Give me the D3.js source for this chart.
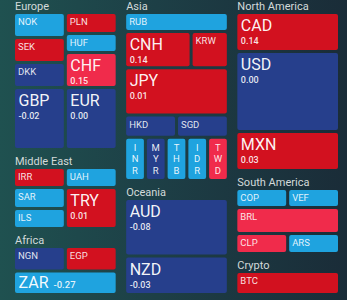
<!DOCTYPE html>
<html>
<head>
<meta charset="utf-8">
<script src="https://cdn.jsdelivr.net/npm/d3@7"></script>
<style>
  html, body { margin: 0; padding: 0; background: #1c3a42; }
  svg { display: block; }
  text { font-family: Roboto, "Noto Sans", sans-serif; }
</style>
</head>
<body>
<svg id="chart" width="347" height="300"></svg>
<script>
// ---------------- DATA ----------------
const codes   = ["NOK","SEK","DKK","PLN","HUF","CHF","GBP","EUR",
                 "IRR","SAR","ILS","UAH","TRY",
                 "NGN","EGP","ZAR",
                 "RUB","CNH","KRW","JPY","HKD","SGD","INR","MYR","THB","IDR","TWD",
                 "AUD","NZD",
                 "CAD","USD","MXN",
                 "COP","VEF","BRL","CLP","ARS",
                 "BTC"];
// % change shown on the larger tiles (null = not displayed)
const changes = [null,null,null,null,null,0.15,-0.02,0.00,
                 null,null,null,null,0.01,
                 null,null,-0.27,
                 null,0.14,null,0.01,null,null,null,null,null,null,null,
                 -0.08,-0.03,
                 0.14,0.00,0.03,
                 null,null,null,null,null,
                 null];
// colour class of each tile
const trend   = ["down2","up1","down1","up1","down2","up2","down1","down1",
                 "up1","down2","down2","down2","up1",
                 "down1","up1","down2",
                 "down2","up1","up1","up1","down1","down1","down2","down1","down2","down2","up2",
                 "down1","down1",
                 "up1","down1","up1",
                 "down2","down2","up2","up2","down2",
                 "up1"];
const trendClasses = ["down2","down1","up1","up2"];
const trendColors  = ["#1fa3df","#263f8c","#d2111f","#f02b4b"];

// tile weights (relative sizes) nested by region
const V = (w, ...children) => ({dir: "v", w, children});
const H = (w, ...children) => ({dir: "h", w, children});
const T = (code, w) => ({code, w});
const R = (region, w, dir, ...children) => ({region, w, dir, children});

const tree = H(1,
  V(1,
    R("Europe", 155, "v",
      H(75, V(1, T("NOK",25), T("SEK",25), T("DKK",25)),
            V(1, T("PLN",21), T("HUF",19), T("CHF",35))),
      H(62, T("GBP",1), T("EUR",1))),
    R("Middle East", 79, "h",
      V(1, T("IRR",20), T("SAR",21), T("ILS",20)),
      V(1, T("UAH",20), T("TRY",41))),
    R("Africa", 66, "v",
      H(25, T("NGN",1), T("EGP",1)),
      T("ZAR",24))
  ),
  V(1,
    R("Asia", 186, "v",
      T("RUB",19),
      H(36, T("CNH",66), T("KRW",37)),
      T("JPY",47),
      H(22, T("HKD",1), T("SGD",1)),
      H(43, T("INR",1), T("MYR",1), T("THB",1), T("IDR",1), T("TWD",1))),
    R("Oceania", 114, "v", T("AUD",57), T("NZD",38))
  ),
  V(1,
    R("North America", 176, "v", T("CAD",39), T("USD",80), T("MXN",39)),
    R("South America", 83, "v",
      H(19, T("COP",1), T("VEF",1)),
      T("BRL",26),
      H(20, T("CLP",1), T("ARS",1))),
    R("Crypto", 41, "v", T("BTC",1))
  )
);

// ---------------- LAYOUT ----------------
const W = 347, Hh = 300;
const svg = d3.select("#chart");

const defs = svg.append("defs");
const grad = defs.append("linearGradient").attr("id","bg").attr("x1","0").attr("x2","1").attr("y1","0").attr("y2","0");
grad.append("stop").attr("offset","0").attr("stop-color","#1f5150");
grad.append("stop").attr("offset","0.45").attr("stop-color","#1d3f46");
grad.append("stop").attr("offset","1").attr("stop-color","#1a2c38");
svg.append("rect").attr("width",W).attr("height",Hh).attr("fill","url(#bg)");

const color = d3.scaleOrdinal(trendClasses, trendColors);
const info = new Map(codes.map((c,i) => [c, {change: changes[i], trend: trend[i]}]));
const fmt = d3.formatLocale({decimal: ".", thousands: ",", grouping: [3], currency: ["", ""], minus: "-"}).format(".2f");

function tile(node, x0, y0, x1, y1) {
  const kids = node.children;
  const total = d3.sum(kids, c => c.data.w);
  if (node.data.dir === "h") {
    const k = (x1 - x0) / total; let x = x0;
    kids.forEach(c => { c.x0 = x; c.x1 = (x += c.data.w * k); c.y0 = y0; c.y1 = y1; });
  } else {
    const k = (y1 - y0) / total; let y = y0;
    kids.forEach(c => { c.y0 = y; c.y1 = (y += c.data.w * k); c.x0 = x0; c.x1 = x1; });
  }
}

const root = d3.hierarchy(tree).sum(d => d.children ? 0 : d.w);
d3.treemap()
  .size([W, Hh])
  .tile(tile)
  .paddingInner(n => n.depth === 0 ? 10.5 : n.depth === 1 ? 7 : 3)
  .paddingTop(n => n.data.region ? 14 : 0)
  .paddingLeft(n => n.depth === 0 ? 15 : 0)
  .paddingRight(n => n.depth === 0 ? 9 : 0)
  .paddingBottom(n => n.depth === 0 ? 7 : 0)
  (root);

// region headers
svg.append("g").selectAll("text")
  .data(root.descendants().filter(n => n.data.region))
  .join("text")
  .attr("x", d => d.x0)
  .attr("y", d => d.y0 + 10)
  .attr("fill", "#d3dada")
  .attr("font-size", 11)
  .text(d => d.data.region);

// tiles
const leaves = root.leaves();
const g = svg.append("g").selectAll("g")
  .data(leaves)
  .join("g")
  .attr("transform", d => `translate(${d.x0},${d.y0})`);

g.append("rect")
  .attr("width", d => d.x1 - d.x0)
  .attr("height", d => d.y1 - d.y0)
  .attr("rx", 2)
  .attr("fill", d => color(info.get(d.data.code).trend));

g.each(function(d) {
  const sel = d3.select(this);
  const w = d.x1 - d.x0, h = d.y1 - d.y0;
  const code = d.data.code, ch = info.get(code).change;
  if (w < 25) {
    // vertical stacked letters
    const letters = code.split("");
    sel.selectAll("text.v").data(letters).join("text")
      .attr("class","v")
      .attr("x", w / 2)
      .attr("y", (l, i) => h / 2 + (i - (letters.length - 1) / 2) * 11.5 + 3.5)
      .attr("text-anchor","middle")
      .attr("font-size", 9.5)
      .attr("fill","rgba(255,255,255,0.9)")
      .text(l => l);
  } else if (ch !== null && h >= 28) {
    sel.append("text").attr("x", 3.5).attr("y", 17)
      .attr("font-size", 16).attr("fill","rgba(255,255,255,0.96)").text(code);
    sel.append("text").attr("x", 3.5).attr("y", 30)
      .attr("font-size", 9).attr("font-weight", 500)
      .attr("fill","rgba(255,255,255,0.88)").text(fmt(ch));
  } else if (ch !== null) {
    const t = sel.append("text").attr("x", 3.5).attr("y", 15.5)
      .attr("font-size", 16).attr("fill","rgba(255,255,255,0.96)").text(code);
    const tw = t.node().getComputedTextLength();
    sel.append("text").attr("x", 3.5 + tw + 5).attr("y", 15.5)
      .attr("font-size", 9.5).attr("font-weight", 500)
      .attr("fill","rgba(255,255,255,0.88)").text(fmt(ch));
  } else {
    sel.append("text").attr("x", 3).attr("y", 11)
      .attr("font-size", 9.5)
      .attr("fill","rgba(255,255,255,0.88)").text(code);
  }
});
</script>
</body>
</html>
